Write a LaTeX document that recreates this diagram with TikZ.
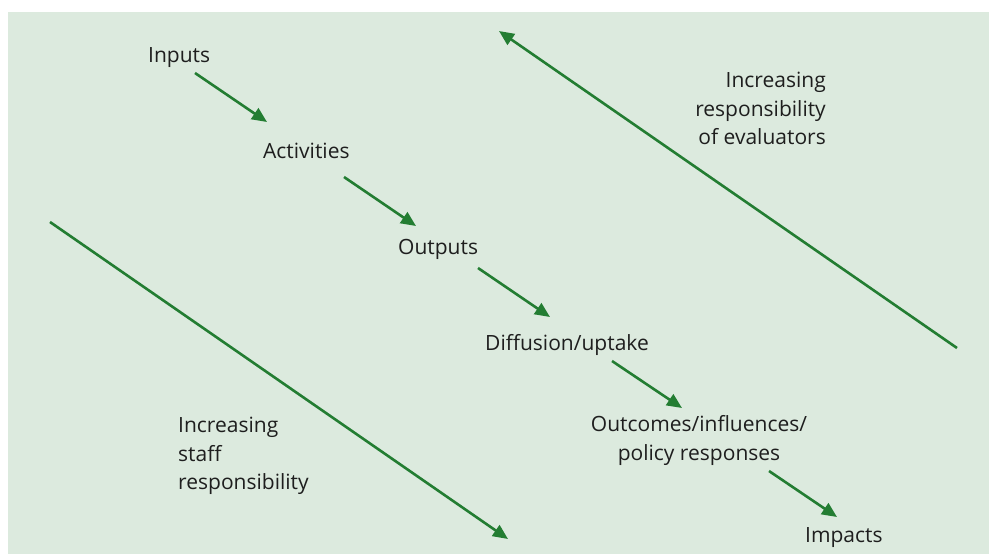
\documentclass[tikz,border=0pt]{standalone}
\usepackage{fontspec}
\setmainfont{Open Sans}
\usetikzlibrary{arrows.meta, positioning}
\definecolor{arrowgreen}{RGB}{35,125,50}
\definecolor{panelgreen}{RGB}{220,234,222}
\definecolor{textgray}{RGB}{30,30,30}

\begin{document}
\begin{tikzpicture}[
        x=1pt, y=-1pt,
        stage/.style={inner sep=0pt, anchor=base west, text=textgray, font=\fontsize{21}{29}\selectfont},
        note/.style={inner sep=0pt, text=textgray, font=\fontsize{21}{28.5}\selectfont},
        flow/.style={-{Triangle[length=15pt,width=13pt]}, line width=2.6pt, arrowgreen}
    ]
        \useasboundingbox (0,0) rectangle (989,554);
        \fill[panelgreen] (8,12) rectangle (989,554);

        % chain of stages
        \node[stage] (inputs) at (148,62) {Inputs};
        \node[stage] (activities) at (263,158) {Activities};
        \node[stage] (outputs) at (398,254) {Outputs};
        \node[stage] (diffusion) at (485,350) {Diffusion/uptake};
        \node[stage, anchor=north, align=center] (outcomes) at (699,415) {Outcomes/influences/\\policy responses};
        \node[stage] (impacts) at (805,542) {Impacts};

        % side notes
        \node[note, anchor=north west, align=left] (staff) at (178,417) {Increasing\\staff\\responsibility};
        \node[note, anchor=north east, align=right] (evaluators) at (826,72) {Increasing\\responsibility\\of evaluators};

        % arrow ends
        \coordinate (in-s) at (195,73);   \coordinate (in-e) at (267,122);
        \coordinate (ac-s) at (344,177);  \coordinate (ac-e) at (416,226);
        \coordinate (ou-s) at (478,268);  \coordinate (ou-e) at (550,317);
        \coordinate (di-s) at (612,361);  \coordinate (di-e) at (682,408);
        \coordinate (oc-s) at (769,471);  \coordinate (oc-e) at (837,517);
        \coordinate (staff-s) at (50,222);  \coordinate (staff-e) at (508,539);
        \coordinate (eval-s) at (957,348);  \coordinate (eval-e) at (499,31);

        \draw[flow] (in-s) -- (in-e);
        \draw[flow] (ac-s) -- (ac-e);
        \draw[flow] (ou-s) -- (ou-e);
        \draw[flow] (di-s) -- (di-e);
        \draw[flow] (oc-s) -- (oc-e);

        \draw[flow] (staff-s) -- (staff-e);
        \draw[flow] (eval-s) -- (eval-e);
    \end{tikzpicture}
\end{document}
